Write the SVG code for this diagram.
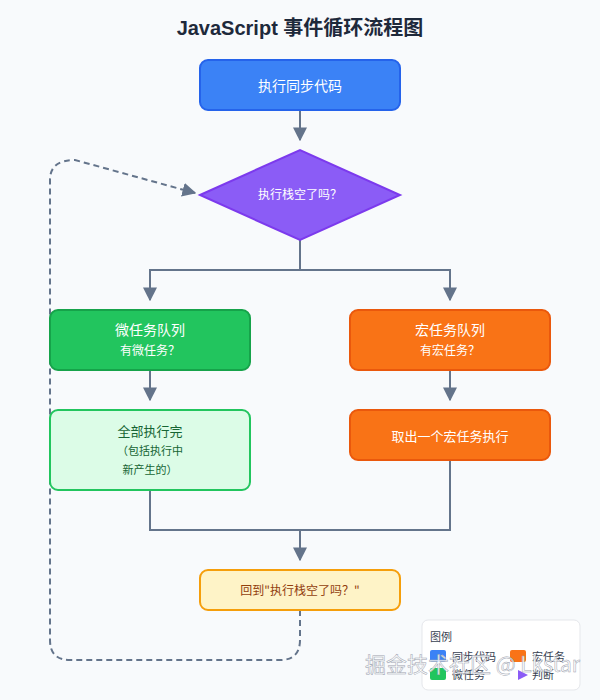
<svg xmlns="http://www.w3.org/2000/svg" width="600" height="700" viewBox="0 0 600 700">
<defs>
<style>
text{font-family:"Noto Sans CJK SC","Noto Sans",sans-serif;text-anchor:middle}
.ln{stroke:#64748b;stroke-width:2;fill:none}
.w{fill:#fff;font-size:14px}
.s{fill:#fff;font-size:12px}
.lg{font-size:11px;fill:#374151;text-anchor:start}
</style>
<marker id="b" viewBox="0 0 10 10" refX="9" refY="5" markerWidth="14" markerHeight="14" markerUnits="userSpaceOnUse" orient="auto"><path d="M0,0L10,5L0,10z" fill="#64748b"/></marker>
</defs>
<rect width="600" height="700" fill="#f8fafc"/>
<text x="300" y="35" style="font-size:20px;font-weight:bold;fill:#1e293b;font-family:'Liberation Sans','Noto Sans CJK SC',sans-serif">JavaScript 事件循环流程图</text>
<g id="connectors">
<path class="ln" d="M300,110V140" marker-end="url(#b)"/>
<path class="ln" d="M300,240V270H150V300M300,270H450V300"/>
<path class="ln" d="M150,284V300" marker-end="url(#b)"/>
<path class="ln" d="M450,284V300" marker-end="url(#b)"/>
<path class="ln" d="M150,370V400" marker-end="url(#b)"/>
<path class="ln" d="M450,370V400" marker-end="url(#b)"/>
<path class="ln" d="M150,490V530H450V460M300,530V560" marker-end="url(#b)"/>
<path class="ln" stroke-dasharray="6,4" d="M300,610V640Q300,660 280,660H70Q50,660 50,640V180Q50,160 75,160L195,193" marker-end="url(#b)"/>
<text x="55" y="420" transform="rotate(90 55 420)" style="font-size:11px;fill:#64748b">循环</text>
</g>
<g id="sync"><rect x="200" y="60" width="200" height="50" rx="8" fill="#3b82f6" stroke="#2563eb" stroke-width="2"/><text class="w" x="300" y="91">执行同步代码</text></g>
<g id="check"><polygon points="200,195 300,150 400,195 300,240" fill="#8b5cf6" stroke="#7c3aed" stroke-width="2"/><text class="s" x="300" y="199">执行栈空了吗？</text></g>
<g id="micro"><rect x="50" y="310" width="200" height="60" rx="8" fill="#22c55e" stroke="#16a34a" stroke-width="2"/><text class="w" x="150" y="335">微任务队列</text><text class="s" x="150" y="355">有微任务？</text></g>
<g id="macro"><rect x="350" y="310" width="200" height="60" rx="8" fill="#f97316" stroke="#ea580c" stroke-width="2"/><text class="w" x="450" y="335">宏任务队列</text><text class="s" x="450" y="355">有宏任务？</text></g>
<g id="runall"><rect x="50" y="410" width="200" height="80" rx="8" fill="#dcfce7" stroke="#22c55e" stroke-width="2"/><text x="150" y="436" style="font-size:13px;fill:#166534">全部执行完</text><text x="150" y="455" style="font-size:11px;fill:#166534">（包括执行中</text><text x="150" y="474" style="font-size:11px;fill:#166534">新产生的）</text></g>
<g id="takeone"><rect x="350" y="410" width="200" height="50" rx="8" fill="#f97316" stroke="#ea580c" stroke-width="2"/><text x="450" y="441" style="font-size:13px;fill:#fff">取出一个宏任务执行</text></g>
<g id="back"><rect x="200" y="570" width="200" height="40" rx="8" fill="#fef3c7" stroke="#f59e0b" stroke-width="2"/><text x="300" y="595" style="font-size:12px;fill:#92400e">回到"执行栈空了吗？"</text></g>
<g id="legend">
<rect x="422" y="620" width="158" height="70" rx="6" fill="#fff" stroke="#e5e7eb"/>
<text class="lg" x="430" y="641">图例</text>
<rect x="430" y="650" width="16" height="12" rx="2" fill="#3b82f6"/><text class="lg" x="452" y="661">同步代码</text>
<rect x="510" y="650" width="16" height="12" rx="2" fill="#f97316"/><text class="lg" x="532" y="661">宏任务</text>
<rect x="430" y="668" width="16" height="12" rx="2" fill="#22c55e"/><text class="lg" x="452" y="679">微任务</text>
<polygon points="518,670 528,675 518,680" fill="#8b5cf6"/><text class="lg" x="532" y="679">判断</text>
</g>
<text x="580" y="672" style="text-anchor:end;font-size:21px;fill:#fff;fill-opacity:0.85;stroke:#9ca3af;stroke-width:0.5">掘金技术社区 @ Lkstar</text>
</svg>
